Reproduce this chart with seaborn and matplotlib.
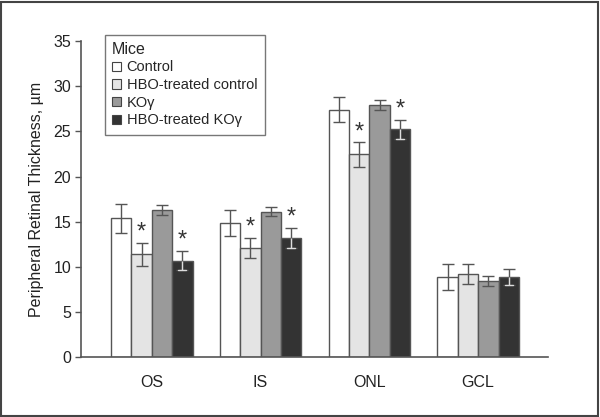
import matplotlib
matplotlib.use("Agg")
import matplotlib.pyplot as plt
import matplotlib.patches as mpatches
from matplotlib.container import BarContainer
import seaborn as sns
import pandas as pd
import numpy as np

layers = ["OS", "IS", "ONL", "GCL"]
groups = ["Control", "HBO-treated control", "KOγ", "HBO-treated KOγ"]
control = [15.4, 14.85, 27.4, 8.9]
hbo_control = [11.4, 12.1, 22.45, 9.2]
ko = [16.3, 16.1, 27.9, 8.45]
hbo_ko = [10.7, 13.2, 25.2, 8.85]
err_control = [1.6, 1.45, 1.4, 1.4]
err_hbo_control = [1.3, 1.1, 1.35, 1.1]
err_ko = [0.55, 0.5, 0.55, 0.6]
err_hbo_ko = [1.05, 1.1, 1.1, 0.9]
significant_hbo_control = [True, True, True, False]
significant_hbo_ko = [True, True, True, False]

values = [control, hbo_control, ko, hbo_ko]
errors = [err_control, err_hbo_control, err_ko, err_hbo_ko]
signif = [None, significant_hbo_control, None, significant_hbo_ko]
colors = ["#ffffff", "#e4e4e4", "#9a9a9a", "#333333"]

rows = []
for g, vals in zip(groups, values):
    for l, v in zip(layers, vals):
        rows.append({"Layer": l, "Mice": g, "Thickness": v})
df = pd.DataFrame(rows)

sns.set_style("ticks")
plt.rcParams["font.family"] = ["Liberation Sans Narrow", "Liberation Sans", "DejaVu Sans"]

fig = plt.figure(figsize=(6.0, 4.17), dpi=100)
ax = fig.add_axes([0.135, 0.143, 0.778, 0.759])

sns.barplot(data=df, x="Layer", y="Thickness", hue="Mice", order=layers,
            hue_order=groups, palette=colors, width=0.75, errorbar=None,
            edgecolor="#555555", linewidth=1.0, ax=ax, legend=False)

edge = "#555555"
bar_conts = [c for c in ax.containers if isinstance(c, BarContainer)]
for ci, cont in enumerate(bar_conts):
    for bi, bar in enumerate(cont.patches):
        xc = bar.get_x() + bar.get_width() / 2
        h = bar.get_height()
        e = errors[ci][bi]
        ax.errorbar(xc, h, yerr=e, fmt="none", ecolor=edge, elinewidth=1.0,
                    capsize=4, capthick=1.0, zorder=5)
        if ci == 3:
            ax.errorbar(xc, h - e / 2, yerr=e / 2, fmt="none", ecolor="#dddddd",
                        elinewidth=1.0, capsize=0, zorder=6)
            ax.plot([xc - bar.get_width() * 0.2, xc + bar.get_width() * 0.2],
                    [h - e, h - e], color="#dddddd", lw=1.0, zorder=6)
        if signif[ci] is not None and signif[ci][bi]:
            ax.text(xc, h + e - 0.1, "*", ha="center", va="bottom",
                    fontsize=17, color="#333333", zorder=7)

ax.set_ylim(0, 35)
ax.set_xlim(-0.65, 3.64)
ax.set_yticks(range(0, 36, 5))
ax.set_xlabel("")
ax.set_ylabel("Peripheral Retinal Thickness, µm", fontsize=11.5, color="#222222", labelpad=7)
ax.tick_params(axis="y", direction="out", length=4, width=1, color=edge,
               labelsize=11.5, labelcolor="#222222", pad=3)
ax.tick_params(axis="x", length=0, labelsize=11.5, labelcolor="#222222", pad=13)
for s in ["top", "right"]:
    ax.spines[s].set_visible(False)
for s in ["left", "bottom"]:
    ax.spines[s].set_color(edge)
    ax.spines[s].set_linewidth(1.2)

handles = [mpatches.Patch(facecolor=c, edgecolor="#444444", linewidth=0.8) for c in colors]
leg = ax.legend(handles, groups, title="Mice", loc="upper left",
                bbox_to_anchor=(0.051, 1.02), borderaxespad=0, frameon=True,
                fancybox=False, fontsize=10.5, title_fontsize=11.5,
                handlelength=0.6, handleheight=0.6, handletextpad=0.4,
                labelspacing=0.25, borderpad=0.5, alignment="left")
leg.get_frame().set_edgecolor("#555555")
leg.get_frame().set_linewidth(1.0)

fig.patches.append(mpatches.Rectangle((0.002, 0.003), 0.994, 0.993,
                                      transform=fig.transFigure, fill=False,
                                      edgecolor="#444444", linewidth=1.5))

fig.savefig("out.png", dpi=100)
